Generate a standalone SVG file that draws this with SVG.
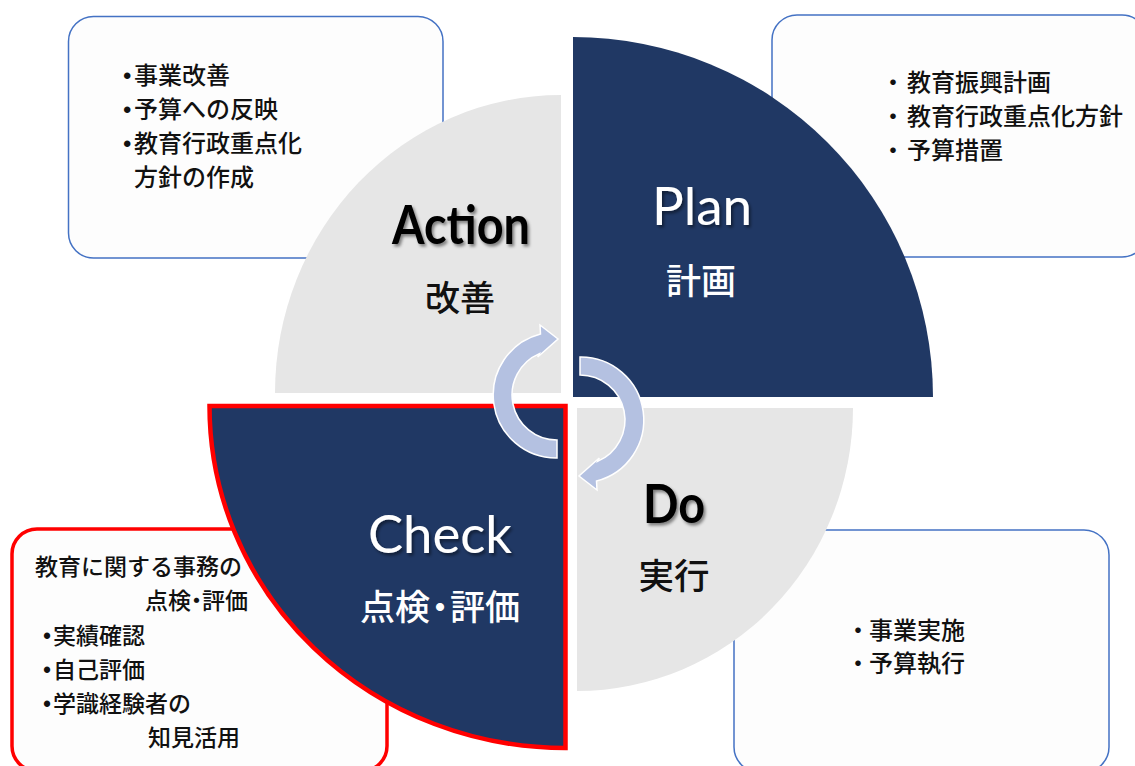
<svg xmlns="http://www.w3.org/2000/svg" width="1135" height="766" viewBox="0 0 1135 766">
  <style>
    .box { fill: #FDFDFD; stroke: #4472C4; stroke-width: 1.5; }
    .boxred { fill: #FDFDFD; stroke: #FF0000; stroke-width: 3.5; }
    .jp { font-family: "Noto Sans CJK JP", "Noto Sans", sans-serif; fill: #111111; font-weight: 500; }
    .bul { font-family: "Liberation Sans", Arial, sans-serif; }
    .navy { fill: #203864; }
    .gray { fill: #E6E6E6; }
    .en { font-family: Lato, "Open Sans", sans-serif; font-size: 53px; }
    .wt { fill: #FFFFFF; }
    .arrow { fill: #B4C1E1; stroke: #FFFFFF; stroke-width: 1.5; stroke-linejoin: miter; }
  </style>
  <defs>
    <filter id="sh" x="-10%" y="-20%" width="130%" height="150%">
      <feDropShadow dx="2" dy="2.5" stdDeviation="1.5" flood-color="#000000" flood-opacity="0.45"/>
    </filter>
  </defs>
  <rect width="1135" height="766" fill="#FFFFFF"/>

  <!-- text boxes (behind quadrants) -->
  <g id="box-action">
    <rect class="box" x="68.5" y="16.5" width="374.5" height="241.5" rx="25"/>
    <text class="jp" font-size="24"><tspan class="bul" x="123" y="83.5">•</tspan><tspan x="134" y="83.5">事業改善</tspan></text>
    <text class="jp" font-size="24"><tspan class="bul" x="123" y="117.5">•</tspan><tspan x="134" y="117.5">予算への反映</tspan></text>
    <text class="jp" font-size="24"><tspan class="bul" x="123" y="151.5">•</tspan><tspan x="134" y="151.5">教育行政重点化</tspan></text>
    <text class="jp" font-size="24" x="134" y="185.5">方針の作成</text>
  </g>
  <g id="box-plan">
    <rect class="box" x="772" y="15" width="375" height="242" rx="25"/>
    <text class="jp" font-size="24"><tspan x="881" y="91">・</tspan><tspan x="907" y="91">教育振興計画</tspan></text>
    <text class="jp" font-size="24"><tspan x="881" y="125">・</tspan><tspan x="907" y="125">教育行政重点化方針</tspan></text>
    <text class="jp" font-size="24"><tspan x="881" y="159">・</tspan><tspan x="907" y="159">予算措置</tspan></text>
  </g>
  <g id="box-do">
    <rect class="box" x="734" y="530" width="375" height="242" rx="25"/>
    <text class="jp" font-size="24"><tspan x="846" y="639">・</tspan><tspan x="869" y="639">事業実施</tspan></text>
    <text class="jp" font-size="24"><tspan x="846" y="672">・</tspan><tspan x="869" y="672">予算執行</tspan></text>
  </g>
  <g id="box-check">
    <rect class="boxred" x="12" y="529" width="375" height="242" rx="25"/>
    <text class="jp" font-size="23" x="35" y="575">教育に関する事務の</text>
    <text class="jp" font-size="23" x="145" y="609">点<tspan letter-spacing="-6">検・</tspan>評価</text>
    <text class="jp" font-size="23"><tspan class="bul" x="43" y="643.5">•</tspan><tspan x="53" y="643.5">実績確認</tspan></text>
    <text class="jp" font-size="23"><tspan class="bul" x="43" y="678">•</tspan><tspan x="53" y="678">自己評価</tspan></text>
    <text class="jp" font-size="23"><tspan class="bul" x="43" y="712">•</tspan><tspan x="53" y="712">学識経験者の</tspan></text>
    <text class="jp" font-size="23" x="148" y="746">知見活用</text>
  </g>

  <!-- quadrants -->
  <g id="q-plan">
    <path class="navy" d="M573,397 L573,37 A360,360 0 0 1 933,397 Z"/>
    <text class="en wt" x="652" y="225" textLength="100" lengthAdjust="spacingAndGlyphs" filter="url(#sh)">Plan</text>
    <text class="jp wt" font-size="35" x="666" y="293.5">計画</text>
  </g>
  <g id="q-action">
    <path class="gray" d="M561,393 L275,393 A286,298 0 0 1 561,95 Z"/>
    <text class="en" x="392" y="244" font-weight="700" fill="#000000" textLength="138" lengthAdjust="spacingAndGlyphs" filter="url(#sh)">Action</text>
    <text class="jp" font-size="35" x="425" y="311">改善</text>
  </g>
  <g id="q-do">
    <path class="gray" d="M577,408 L853,408 A276,283 0 0 1 577,691 Z"/>
    <text class="en" x="643" y="522.7" font-weight="700" fill="#000000" textLength="62" lengthAdjust="spacingAndGlyphs" filter="url(#sh)">Do</text>
    <text class="jp" font-size="35.5" x="638.5" y="589">実行</text>
  </g>
  <g id="q-check">
    <path class="navy" d="M565.5,406 L565.5,748 A356,342 0 0 1 209.5,406 Z" stroke="#FF0000" stroke-width="4.5"/>
    <text class="en wt" x="368" y="552.7" textLength="144" lengthAdjust="spacingAndGlyphs" filter="url(#sh)">Check</text>
    <text class="jp wt" font-size="35" x="360" y="620">点<tspan letter-spacing="-7.5">検・</tspan>評価</text>
  </g>

  <!-- cycle arrows -->
  <g id="connectors">
    <path class="arrow" d="M557,458 A63,63 0 0 1 540.5,334 L540,325 L558,339 L537.7,357 L539.4,353.6 A45,45 0 0 0 557,440 Z"/>
    <path class="arrow" d="M580,357 A63,63 0 0 1 596.5,481 L597,490 L579,476 L599.3,458 L597.6,461.4 A45,45 0 0 0 580,375 Z"/>
  </g>
</svg>
